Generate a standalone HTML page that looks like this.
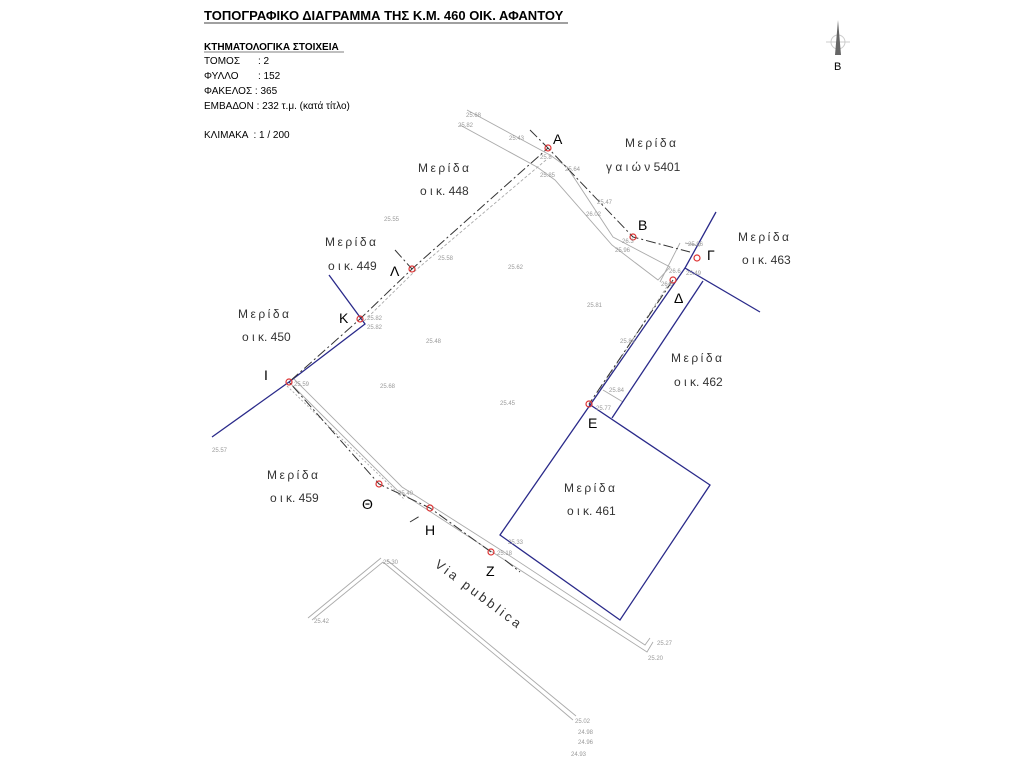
<!DOCTYPE html>
<html><head><meta charset="utf-8"><style>
body{margin:0;background:#fff;}
svg{display:block;font-family:"Liberation Sans",sans-serif;}
.t{font-size:10px;fill:#000}
.m{font-size:12px;fill:#333;letter-spacing:2.5px}
.o{font-size:12px;fill:#333}
.n{font-size:6px;fill:#999}
.p{font-size:14px;fill:#000}
</style></head><body>
<svg width="1024" height="768" viewBox="0 0 1024 768">
<text x="204" y="20" style="font-size:13px;font-weight:bold" fill="#000">ΤΟΠΟΓΡΑΦΙΚΟ ΔΙΑΓΡΑΜΜΑ ΤΗΣ Κ.Μ. 460 ΟΙΚ. ΑΦΑΝΤΟΥ</text>
<line x1="204" y1="23" x2="568" y2="23" stroke="#000" stroke-width="0.8"/>
<text x="204" y="50" class="t" font-weight="bold">ΚΤΗΜΑΤΟΛΟΓΙΚΑ ΣΤΟΙΧΕΙΑ</text>
<line x1="204" y1="52" x2="344" y2="52" stroke="#000" stroke-width="0.6"/>
<text x="204" y="64" class="t">ΤΟΜΟΣ</text><text x="258" y="64" class="t">: 2</text>
<text x="204" y="79" class="t">ΦΥΛΛΟ</text><text x="258" y="79" class="t">: 152</text>
<text x="204" y="94" class="t">ΦΑΚΕΛΟΣ : 365</text>
<text x="204" y="109" class="t">ΕΜΒΑΔΟΝ : 232 τ.μ. (κατά τίτλο)</text>
<text x="204" y="138" class="t">ΚΛΙΜΑΚΑ &#160;: 1 / 200</text>
<!-- north -->
<circle cx="838" cy="42" r="7" fill="none" stroke="#ccc"/>
<line x1="826" y1="42" x2="850" y2="42" stroke="#ccc"/>
<polygon points="838,20 835,55 841,55" fill="#666"/>
<text x="834" y="70" style="font-size:11px" fill="#000">B</text>
<!-- gray roads -->
<g fill="none" stroke="#aaa" stroke-width="0.9">
<polyline points="467,110 550,155 567,167 613,237 670,267 658,280 612,245 555,180 537,167 460,125"/>
<polyline points="680,243 660,282"/>
<polyline points="685,243 700,246"/>
<polyline points="289,382 397,490 500,557 647,652 653,642"/>
<polyline points="293,378 402,487 504,552 645,645 650,638"/>
<polyline points="383,562 312,620"/>
<polyline points="381,558 308,618"/>
<polyline points="383,562 540,692 573,720 Q582,735 568,752"/>
<polyline points="387,560 542,688 576,716 Q586,735 572,752"/>
<polyline points="603,390 623,402"/>
<polyline points="287,386 405,500" stroke-dasharray="2,2"/>
<polyline points="546,160 416,270 363,322" stroke-dasharray="3,2"/>
<polyline points="670,282 592,402" stroke-dasharray="3,2"/>
</g>
<!-- blue lines -->
<g fill="none" stroke="#2a2a8a" stroke-width="1.3">
<polyline points="212,437 289,382 365,324 329,275"/>
<polyline points="716,212 685,268 760,312"/>
<polyline points="685,268 500,535 620,620 710,485 589,404"/>
<polyline points="703,281 612,418"/>
</g>
<!-- dash-dot boundary -->
<g fill="none" stroke="#333" stroke-width="1" stroke-dasharray="10,3,2,3">
<polyline points="530,130 548,148 633,237 690,252"/>
<polyline points="673,280 589,404"/>
<polyline points="491,552 430,508 379,484 289,382 360,319 412,269 548,148"/>
<polyline points="505,560 520,572"/>
<polyline points="395,250 412,269"/>
<polyline points="410,522 420,516"/>
</g>
<!-- points -->
<g fill="none" stroke="#d33" stroke-width="1.2">
<circle cx="548" cy="148" r="3"/><circle cx="633" cy="237" r="3"/><circle cx="697" cy="258" r="3"/>
<circle cx="673" cy="280" r="3"/><circle cx="589" cy="404" r="3"/><circle cx="491" cy="552" r="3"/>
<circle cx="430" cy="508" r="3"/><circle cx="379" cy="484" r="3"/><circle cx="289" cy="382" r="3"/>
<circle cx="360" cy="319" r="3"/><circle cx="412" cy="269" r="3"/>
</g>
<!-- point labels -->
<text x="553" y="144" class="p">A</text>
<text x="638" y="230" class="p">B</text>
<text x="707" y="260" class="p">Γ</text>
<text x="674" y="303" class="p">Δ</text>
<text x="588" y="428" class="p">E</text>
<text x="486" y="576" class="p">Z</text>
<text x="425" y="535" class="p">H</text>
<text x="362" y="509" class="p">Θ</text>
<text x="264" y="380" class="p">I</text>
<text x="339" y="323" class="p">K</text>
<text x="390" y="276" class="p">Λ</text>
<!-- parcels -->
<text x="418" y="172" class="m">Μερίδα</text><text x="420" y="195" class="o">ο ι κ. 448</text>
<text x="625" y="147" class="m">Μερίδα</text><text x="606" y="171" class="o">γ α ι ώ ν 5401</text>
<text x="738" y="241" class="m">Μερίδα</text><text x="742" y="264" class="o">ο ι κ. 463</text>
<text x="325" y="246" class="m">Μερίδα</text><text x="328" y="270" class="o">ο ι κ. 449</text>
<text x="238" y="318" class="m">Μερίδα</text><text x="242" y="341" class="o">ο ι κ. 450</text>
<text x="671" y="362" class="m">Μερίδα</text><text x="674" y="386" class="o">ο ι κ. 462</text>
<text x="267" y="479" class="m">Μερίδα</text><text x="270" y="502" class="o">ο ι κ. 459</text>
<text x="564" y="492" class="m">Μερίδα</text><text x="567" y="515" class="o">ο ι κ. 461</text>
<text x="0" y="0" class="m" transform="translate(434,566) rotate(37)" style="font-size:13px;letter-spacing:3px">Via pubblica</text>
<!-- elevations -->
<g class="n">
<text x="466" y="117" class="n">25.68</text><text x="458" y="127" class="n">25.82</text>
<text x="509" y="140" class="n">25.43</text><text x="540" y="159" class="n">25.8</text>
<text x="565" y="171" class="n">25.64</text><text x="540" y="177" class="n">25.85</text>
<text x="597" y="204" class="n">25.47</text><text x="586" y="216" class="n">26.02</text>
<text x="622" y="243" class="n">26.3</text><text x="615" y="252" class="n">25.96</text>
<text x="688" y="246" class="n">25.96</text><text x="669" y="273" class="n">26.6</text>
<text x="686" y="275" class="n">25.49</text><text x="661" y="286" class="n">26.6</text>
<text x="384" y="221" class="n">25.55</text><text x="438" y="260" class="n">25.58</text>
<text x="508" y="269" class="n">25.62</text><text x="587" y="307" class="n">25.81</text>
<text x="367" y="320" class="n">25.82</text><text x="367" y="329" class="n">25.82</text>
<text x="426" y="343" class="n">25.48</text><text x="620" y="343" class="n">25.86</text>
<text x="294" y="386" class="n">25.59</text><text x="380" y="388" class="n">25.68</text>
<text x="500" y="405" class="n">25.45</text><text x="609" y="392" class="n">25.84</text>
<text x="596" y="410" class="n">25.77</text><text x="212" y="452" class="n">25.57</text>
<text x="398" y="495" class="n">25.40</text><text x="508" y="544" class="n">25.33</text>
<text x="497" y="555" class="n">25.18</text><text x="383" y="564" class="n">25.30</text>
<text x="314" y="623" class="n">25.42</text><text x="657" y="645" class="n">25.27</text>
<text x="648" y="660" class="n">25.20</text><text x="575" y="723" class="n">25.02</text>
<text x="578" y="734" class="n">24.98</text><text x="578" y="744" class="n">24.96</text>
<text x="571" y="756" class="n">24.93</text>
</g>
</svg>
</body></html>
